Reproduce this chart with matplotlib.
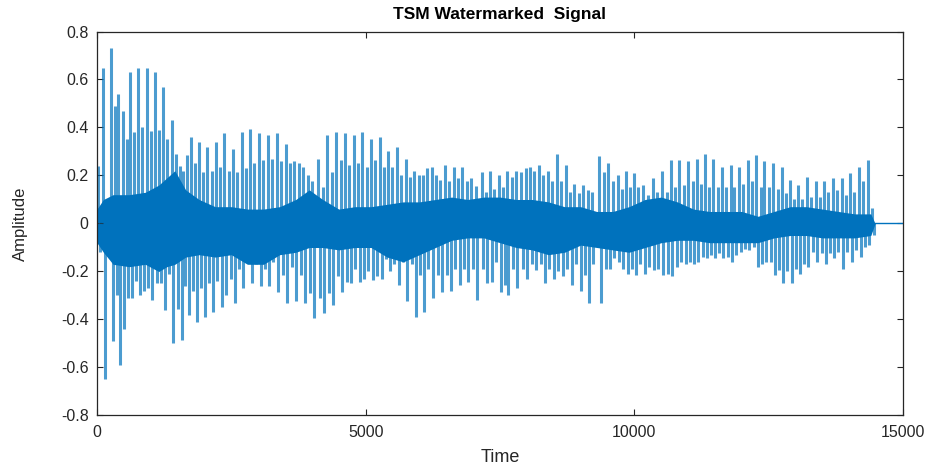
import matplotlib.pyplot as plt

plt.rcParams['font.family'] = ['Liberation Sans', 'DejaVu Sans']

# spike positions (samples) and tip values
spike_pos = [25, 118, 261, 335, 397, 478, 552, 614, 695, 769, 844, 924, 999, 1079, 1154,
             1234, 1309, 1390, 1470, 1545, 1607, 1681, 1749, 1824, 1904, 1979, 2053, 2134,
             2208, 2289, 2370,
             2457, 2537, 2612, 2692, 2767, 2847, 2928, 3015, 3096, 3176, 3251, 3344, 3424,
             3511, 3592, 3673, 3759, 3840, 3933, 4008, 4120, 4200, 4287, 4368, 4448, 4535,
             4615, 4696, 4777,
             4863, 4937, 5018, 5099, 5173, 5266, 5341, 5421, 5496, 5583, 5663, 5744, 5824,
             5905, 5986, 6060, 6135, 6228, 6308, 6383, 6476, 6557, 6637, 6724, 6798, 6879,
             6960, 7046, 7158, 7233,
             7314, 7395, 7482, 7562, 7624, 7717, 7792, 7891, 7978, 8058, 8139, 8226, 8307,
             8387, 8474, 8555, 8635, 8722, 8803, 8883, 8970, 9051, 9132, 9206, 9349, 9435,
             9516, 9597,
             9690, 9764, 9845, 9919, 10000, 10074, 10167, 10248, 10341, 10415, 10508, 10601,
             10676, 10757, 10837, 10924, 11005, 11085, 11160, 11240, 11315, 11395, 11470,
             11551, 11625, 11706, 11792, 11861, 11948, 12028,
             12109, 12196, 12264, 12351, 12419, 12506, 12586, 12667, 12741, 12816, 12896,
             12977, 13051, 13126, 13207, 13287, 13374, 13455, 13535, 13610, 13690, 13765,
             13858, 13932, 14013, 14094, 14180, 14261, 14342, 14429]

spike_top = [0.24, 0.65, 0.73, 0.49, 0.54, 0.47, 0.35, 0.63, 0.38, 0.65, 0.40, 0.65, 0.385,
             0.63, 0.39, 0.57, 0.35, 0.43, 0.29, 0.24, 0.22, 0.285, 0.36, 0.25, 0.34, 0.215,
             0.32, 0.22, 0.34, 0.235, 0.375,
             0.22, 0.31, 0.215, 0.38, 0.23, 0.395, 0.25, 0.375, 0.265, 0.37, 0.27, 0.375,
             0.26, 0.33, 0.25, 0.26, 0.25, 0.235, 0.20, 0.175, 0.27, 0.15, 0.37, 0.215, 0.38,
             0.265, 0.375, 0.245, 0.37,
             0.25, 0.38, 0.235, 0.35, 0.265, 0.36, 0.235, 0.30, 0.235, 0.32, 0.20, 0.27,
             0.195, 0.22, 0.20, 0.20, 0.23, 0.235, 0.20, 0.18, 0.245, 0.175, 0.235, 0.19,
             0.235, 0.175, 0.19, 0.155, 0.215, 0.13,
             0.22, 0.145, 0.20, 0.15, 0.22, 0.195, 0.22, 0.215, 0.23, 0.235, 0.22, 0.245,
             0.20, 0.22, 0.175, 0.29, 0.175, 0.245, 0.13, 0.165, 0.125, 0.16, 0.14, 0.13,
             0.28, 0.215, 0.25, 0.175,
             0.20, 0.145, 0.22, 0.15, 0.21, 0.15, 0.16, 0.12, 0.19, 0.13, 0.22, 0.13, 0.265,
             0.15, 0.265, 0.16, 0.26, 0.175, 0.27, 0.165, 0.29, 0.15, 0.27, 0.15, 0.235,
             0.15, 0.245, 0.15, 0.235, 0.165,
             0.265, 0.175, 0.285, 0.15, 0.26, 0.15, 0.25, 0.145, 0.235, 0.125, 0.18, 0.10,
             0.16, 0.10, 0.195, 0.11, 0.175, 0.11, 0.175, 0.13, 0.19, 0.14, 0.19, 0.12, 0.21,
             0.13, 0.235, 0.175, 0.265, 0.065]

spike_bot = [-0.12, -0.65, -0.49, -0.30, -0.59, -0.44, -0.31, -0.31, -0.24, -0.30, -0.28,
             -0.27, -0.32, -0.25, -0.25, -0.36, -0.21, -0.50, -0.355, -0.485, -0.26, -0.38,
             -0.28, -0.41, -0.27, -0.39, -0.25, -0.37, -0.24, -0.35, -0.30,
             -0.23, -0.33, -0.19, -0.27, -0.16, -0.25, -0.17, -0.26, -0.19, -0.26, -0.16,
             -0.285, -0.215, -0.33, -0.18, -0.325, -0.215, -0.33, -0.29, -0.395, -0.31,
             -0.375, -0.29, -0.34, -0.22, -0.285, -0.245, -0.25, -0.19,
             -0.245, -0.23, -0.20, -0.235, -0.22, -0.23, -0.15, -0.20, -0.17, -0.255, -0.16,
             -0.325, -0.17, -0.39, -0.215, -0.37, -0.19, -0.31, -0.215, -0.285, -0.215,
             -0.28, -0.19, -0.255, -0.19, -0.245, -0.19, -0.32, -0.19, -0.25,
             -0.245, -0.16, -0.285, -0.255, -0.30, -0.19, -0.27, -0.19, -0.23, -0.17,
             -0.195, -0.17, -0.25, -0.19, -0.23, -0.20, -0.22, -0.19, -0.255, -0.17, -0.28,
             -0.215, -0.33, -0.17, -0.33, -0.19, -0.19, -0.145,
             -0.16, -0.19, -0.21, -0.19, -0.215, -0.17, -0.21, -0.18, -0.195, -0.19, -0.215,
             -0.21, -0.22, -0.18, -0.16, -0.17, -0.16, -0.17, -0.16, -0.14, -0.145, -0.13,
             -0.145, -0.125, -0.145, -0.14, -0.16, -0.13, -0.12, -0.105,
             -0.11, -0.10, -0.18, -0.17, -0.16, -0.16, -0.215, -0.195, -0.25, -0.20, -0.25,
             -0.19, -0.21, -0.17, -0.18, -0.12, -0.16, -0.125, -0.17, -0.125, -0.145, -0.12,
             -0.19, -0.12, -0.16, -0.11, -0.14, -0.10, -0.09, -0.05]

# dense core of the signal (upper / lower edge)
core_x = [0, 120, 300, 600, 900, 1150, 1300, 1450, 1650, 1900, 2200, 2500, 2800, 3100,
          3400, 3700, 3950, 4200, 4500, 4800, 5100, 5400, 5700, 6000, 6300, 6600, 6900,
          7200, 7500, 7800, 8100, 8400, 8700, 9000, 9300, 9600, 9900, 10200, 10500, 10800,
          11100, 11400, 11700, 12000, 12300, 12600, 12900, 13200, 13500, 13800, 14100,
          14400, 14480]
core_hi = [0.06, 0.10, 0.12, 0.12, 0.13, 0.16, 0.19, 0.22, 0.14, 0.10, 0.07, 0.07, 0.06,
           0.06, 0.07, 0.10, 0.14, 0.10, 0.06, 0.07, 0.07, 0.08, 0.09, 0.09, 0.10, 0.11,
           0.10, 0.11, 0.11, 0.10, 0.10, 0.09, 0.07, 0.07, 0.05, 0.05, 0.07, 0.10, 0.11,
           0.09, 0.06, 0.05, 0.05, 0.05, 0.03, 0.05, 0.07, 0.07, 0.06, 0.05, 0.04, 0.04, 0.0]
core_lo = [-0.08, -0.12, -0.17, -0.18, -0.17, -0.20, -0.18, -0.17, -0.14, -0.13, -0.14,
           -0.13, -0.17, -0.17, -0.13, -0.12, -0.10, -0.10, -0.11, -0.10, -0.10, -0.14,
           -0.16, -0.13, -0.10, -0.07, -0.06, -0.06, -0.08, -0.10, -0.11, -0.13, -0.12,
           -0.09, -0.10, -0.11, -0.12, -0.10, -0.08, -0.07, -0.07, -0.08, -0.08, -0.08,
           -0.08, -0.06, -0.05, -0.05, -0.06, -0.06, -0.06, -0.05, 0.0]

tail_x = [14480, 15000]
tail_y = [0, 0]

c = '#0072BD'
fig = plt.figure(figsize=(9.35, 4.66), dpi=100)
ax = fig.add_axes([0.1037, 0.1084, 0.8621, 0.8240])

ax.fill_between(core_x, core_lo, core_hi, color=c, lw=0)
ax.vlines(spike_pos, 0, spike_top, color=c, lw=2.2, alpha=0.7)
ax.vlines([p + 30 for p in spike_pos], spike_bot, 0, color=c, lw=2.2, alpha=0.7)
ax.plot(tail_x, tail_y, color=c, lw=1)

ax.set_xlim(0, 15000)
ax.set_ylim(-0.8, 0.8)
ax.set_xticks([0, 5000, 10000, 15000])
ax.set_xticklabels(['0', '5000', '10000', '15000'])
ax.set_yticks([-0.8, -0.6, -0.4, -0.2, 0, 0.2, 0.4, 0.6, 0.8])
ax.set_yticklabels(['-0.8', '-0.6', '-0.4', '-0.2', '0', '0.2', '0.4', '0.6', '0.8'])
ax.tick_params(direction='in', top=True, right=True, length=4, width=0.8,
               labelsize=11.5, colors='#262626')
ax.tick_params(axis='x', pad=7)
ax.tick_params(axis='y', pad=6)
for s in ax.spines.values():
    s.set_color('#262626')
    s.set_linewidth(0.9)

ax.set_title('TSM Watermarked  Signal', fontsize=12.5, fontweight='bold', pad=9)
ax.set_xlabel('Time', fontsize=13, color='#262626', labelpad=6)
ax.set_ylabel('Amplitude', fontsize=12, color='#262626', labelpad=24)

fig.savefig('out.png', dpi=100)
